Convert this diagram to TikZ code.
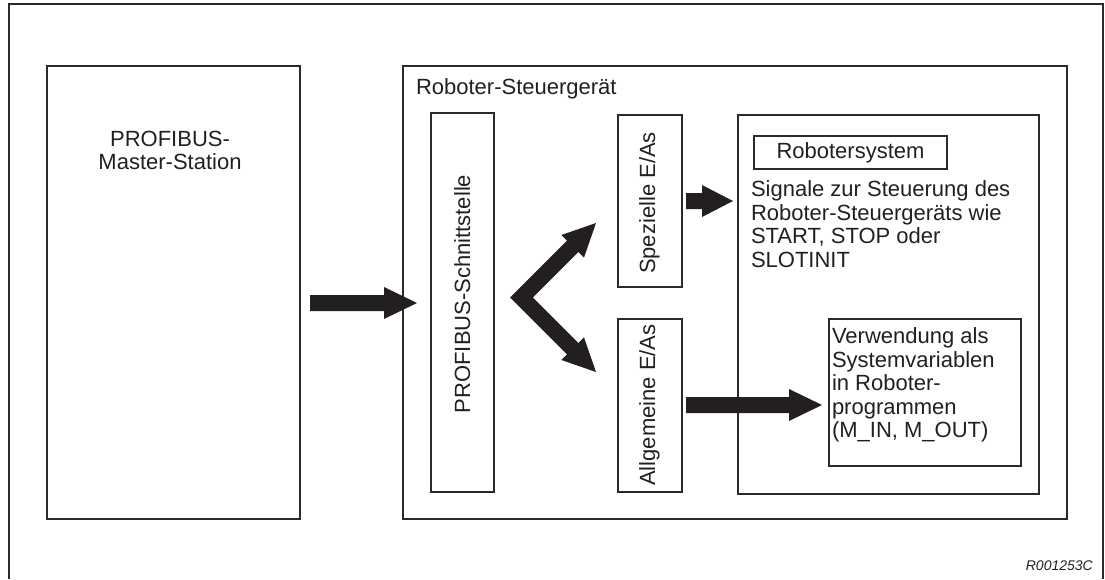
\documentclass[tikz,border=0pt]{standalone}
\usepackage{fontspec}
\setmainfont{Liberation Sans}
\usetikzlibrary{calc}
\definecolor{linec}{HTML}{2B2B2B}
\definecolor{arrc}{HTML}{231F20}
\definecolor{txtc}{HTML}{231F20}
\newcommand\blockarrow[3]{%
  \fill[arr] ($(#1)+(0,-8)$) -- ($(#2)+(-#3,-8)$) -- ($(#2)+(-#3,-16)$) -- (#2)
    -- ($(#2)+(-#3,16)$) -- ($(#2)+(-#3,8)$) -- ($(#1)+(0,8)$) -- cycle;}
\begin{document}
\begin{tikzpicture}[x=1pt,y=-1pt,
  box/.style={draw=linec, line width=1.3pt, inner sep=0pt, outer sep=0pt, anchor=north west},
  lbl/.style={inner sep=0pt, outer sep=0pt, font=\fontsize{22}{23.5}\selectfont, text=txtc},
  arr/.style={fill=arrc},
]
\useasboundingbox (0,0) rectangle (1105,579);
% outer frame (open at the bottom)
\draw[draw=linec, line width=2pt] (9,579) -- (9,4) -- (1103,4) -- (1103,579);

% boxes
\node[box, minimum width=253pt, minimum height=453pt] (master) at (47,66) {};
\node[box, minimum width=664pt, minimum height=453pt] (ctrl) at (403,66) {};
\node[box, minimum width=63pt, minimum height=379pt] (iface) at (431,113) {};
\node[box, minimum width=64pt, minimum height=172pt] (spez) at (618,115) {};
\node[box, minimum width=64pt, minimum height=173pt] (allg) at (618,319) {};
\node[box, minimum width=301pt, minimum height=379pt] (robot) at (738,115) {};
\node[box, minimum width=193pt, minimum height=33pt, lbl, draw=linec, line width=1.3pt] (rsys) at (754,136) {Robotersystem};
\node[box, minimum width=192pt, minimum height=147pt] (verw) at (829,319) {};

% texts
\node[lbl, align=center, anchor=north] (mastertxt) at (170,131) {PROFIBUS-\\Master-Station};
\node[lbl, anchor=base west] (ctrltxt) at (416,94) {Roboter-Steuergerät};
\node[lbl, rotate=90, anchor=base] (ifacetxt) at (470,294) {PROFIBUS-Schnittstelle};
\node[lbl, rotate=90, anchor=base] (speztxt) at (655,203) {Spezielle E/As};
\node[lbl, rotate=90, anchor=base] (allgtxt) at (655,405) {Allgemeine E/As};
\node[lbl, align=left, anchor=north west] (sigtxt) at (751,181)
  {Signale zur Steuerung des\\Roboter-Steuergeräts wie\\START, STOP oder\\SLOTINIT};
\node[lbl, align=left, anchor=north west] (verwtxt) at (832,328)
  {Verwendung als\\Systemvariablen\\in Roboter-\\programmen\\(M\_IN, M\_OUT)};
\node[inner sep=0pt, anchor=base east, text=txtc, font=\fontsize{14}{16}\selectfont\itshape] (code) at (1093,570) {R001253C};

% block arrows
\coordinate (a1s) at (310,303);
\coordinate (a1t) at (417,303);
\blockarrow{a1s}{a1t}{33}
\coordinate (a2s) at (686,201);
\coordinate (a2t) at (733,201);
\blockarrow{a2s}{a2t}{31}
\coordinate (a3s) at (686,405);
\coordinate (a3t) at (822,405);
\blockarrow{a3s}{a3t}{33}

% V-shaped double arrow
\coordinate (vv) at (521.5,297.5);
\coordinate (vb1) at (573.5,245.5);
\coordinate (vb2) at (573.5,349.5);
\coordinate (vt1) at (596,223);
\coordinate (vt2) at (596,372);
\draw[draw=arrc, line width=16pt, miter limit=10, line join=miter] (vb1) -- (vv) -- (vb2);
\fill[arr] (vt1) -- (561.4,235) -- (584,257.6) -- cycle;
\fill[arr] (vt2) -- (584,337.4) -- (561.4,360) -- cycle;
\end{tikzpicture}
\end{document}
